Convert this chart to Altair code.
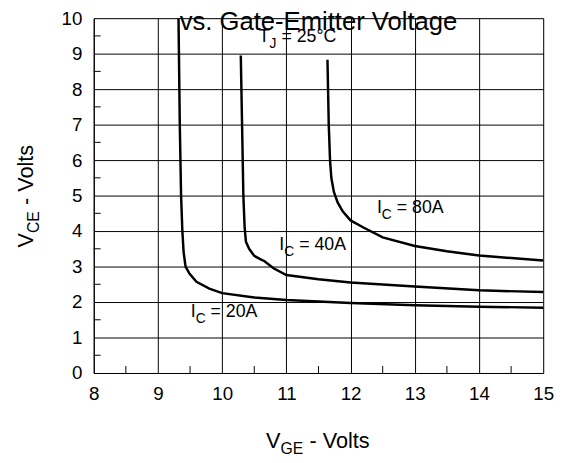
import altair as alt
import pandas as pd

# ---------------- data ----------------
ic20_vge = [9.32, 9.34, 9.36, 9.38, 9.40, 9.43, 9.49, 9.60, 9.80, 10.0, 10.5, 11.0, 12.0, 13.0, 14.0, 15.0]
ic20_vce = [10.0, 7.0, 5.0, 4.0, 3.4, 3.0, 2.8, 2.57, 2.38, 2.25, 2.13, 2.06, 1.97, 1.91, 1.87, 1.84]

ic40_vge = [10.29, 10.31, 10.33, 10.35, 10.37, 10.42, 10.50, 10.60, 10.66, 10.80, 11.0, 11.5, 12.0, 13.0, 14.0, 15.0]
ic40_vce = [8.95, 7.0, 5.0, 4.1, 3.7, 3.5, 3.3, 3.2, 3.15, 2.95, 2.76, 2.64, 2.55, 2.44, 2.33, 2.28]

ic80_vge = [11.64, 11.66, 11.68, 11.70, 11.74, 11.80, 11.88, 12.0, 12.2, 12.5, 13.0, 13.5, 14.0, 15.0]
ic80_vce = [8.83, 7.0, 6.0, 5.5, 5.1, 4.8, 4.55, 4.3, 4.1, 3.82, 3.58, 3.43, 3.31, 3.17]

x_ticks = [8, 9, 10, 11, 12, 13, 14, 15]
y_ticks = [0, 1, 2, 3, 4, 5, 6, 7, 8, 9, 10]
x_minor = [8.5, 9.5, 10.5, 11.5, 12.5, 13.5, 14.5]
y_minor = [0.5, 1.5, 2.5, 3.5, 4.5, 5.5, 6.5, 7.5, 8.5, 9.5]

# curve labels: (main, subscript, rest, x, y)
label_main = ["I", "I", "I", "T"]
label_sub = ["C", "C", "C", "J"]
label_rest = ["= 20A", "= 40A", "= 80A", "= 25°C"]
label_x = [9.51, 10.89, 12.41, 10.57]
label_y = [1.58, 3.47, 4.52, 9.33]

title_text = "vs. Gate-Emitter Voltage"
x_title = ("V", "GE", "- Volts")
y_title = ("V", "CE", "- Volts")

# ---------------- helpers ----------------
FONT = "Liberation Sans"
W = {'V': .667, 'C': .722, 'E': .667, 'G': .778, ' ': .278, '-': .333, 'o': .556,
     'l': .222, 't': .278, 's': .5, 'I': .278, '=': .584, '2': .556, '0': .556,
     '4': .556, '8': .556, 'A': .667, 'T': .611, 'J': .5, '5': .556, '°': .4}


def tw(s, size):
    return sum(W.get(c, .556) for c in s) * size


PW, PH = 456, 360
xs = alt.Scale(domain=[8, 15], nice=False, zero=False)
ys = alt.Scale(domain=[0, 10], nice=False, zero=False)

AX = alt.Axis(values=x_ticks, format="d", grid=True, gridColor="black", gridWidth=1,
              gridOpacity=1, domainColor="black", ticks=False, labelOverlap=False,
              labelFont=FONT, labelFontSize=19, labelColor="black",
              labelPadding=12, title=None, labelFlush=False)
AY = alt.Axis(values=y_ticks, format="d", grid=True, gridColor="black", gridWidth=1,
              gridOpacity=1, domainColor="black", ticks=False, labelOverlap=False,
              labelFont=FONT, labelFontSize=19, labelColor="black",
              labelPadding=12, title=None, labelFlush=False)


def X(f):
    return alt.X(f, scale=xs, axis=AX)


def Y(f):
    return alt.Y(f, scale=ys, axis=AY)


rows = []
for name, xv, yv in [("20", ic20_vge, ic20_vce), ("40", ic40_vge, ic40_vce), ("80", ic80_vge, ic80_vce)]:
    for i, (a, b) in enumerate(zip(xv, yv)):
        rows.append({"series": name, "i": i, "vge": a, "vce": b})
curves_df = pd.DataFrame(rows)

curves = alt.Chart(curves_df).mark_line(color="black", strokeWidth=2.5, clip=True).encode(
    x=X("vge:Q"), y=Y("vce:Q"), detail="series:N", order="i:Q")

xminor = alt.Chart(pd.DataFrame({"v": x_minor})).mark_rule(color="black", strokeWidth=1).encode(
    x=X("v:Q"), y=alt.value(PH), y2=alt.value(PH - 7))
yminor = alt.Chart(pd.DataFrame({"v": y_minor})).mark_rule(color="black", strokeWidth=1).encode(
    y=Y("v:Q"), x=alt.value(0), x2=alt.value(7))

layers = [curves, xminor, yminor]

SP = W[' ']
# curve labels with subscripts
MAIN, SUB, SUBDY = 18, 14, 6
for m, s, r, lx, ly in zip(label_main, label_sub, label_rest, label_x, label_y):
    d = pd.DataFrame({"x": [lx], "y": [ly]})
    enc = dict(x=X("x:Q"), y=Y("y:Q"))
    layers.append(alt.Chart(d).mark_text(text=m, font=FONT, fontSize=MAIN, align="left",
                                         baseline="alphabetic", color="black").encode(**enc))
    layers.append(alt.Chart(d).mark_text(text=s, font=FONT, fontSize=SUB, align="left",
                                         baseline="alphabetic", color="black",
                                         dx=tw(m, MAIN), dy=SUBDY).encode(**enc))
    layers.append(alt.Chart(d).mark_text(text=r, font=FONT, fontSize=MAIN, align="left",
                                         baseline="alphabetic", color="black",
                                         dx=tw(m, MAIN) + tw(s, SUB) + SP * MAIN).encode(**enc))

# axis titles with subscripts
AT, ATS, ATDY = 22, 16, 6
w0, w1, w2 = tw(x_title[0], AT), tw(x_title[1], ATS), SP * AT + tw(x_title[2], AT)
x0 = PW / 2 - (w0 + w1 + w2) / 2
xy = 436
for txt, px, sz, ddy in zip(x_title, [x0, x0 + w0, x0 + w0 + w1 + SP * AT], [AT, ATS, AT], [0, ATDY, 0]):
    layers.append(alt.Chart(pd.DataFrame({"k": [0]})).mark_text(
        text=txt, font=FONT, fontSize=sz, align="left", baseline="alphabetic",
        color="black", dy=ddy).encode(x=alt.value(px), y=alt.value(xy)))

w0, w1, w2 = tw(y_title[0], AT), tw(y_title[1], ATS), SP * AT + tw(y_title[2], AT)
y0 = PH / 2 + (w0 + w1 + w2) / 2
yx = -62
for txt, off, sz, ddy in zip(y_title, [0, w0, w0 + w1 + SP * AT], [AT, ATS, AT], [0, ATDY, 0]):
    layers.append(alt.Chart(pd.DataFrame({"k": [0]})).mark_text(
        text=txt, font=FONT, fontSize=sz, align="left", baseline="alphabetic",
        color="black", angle=270, dx=off, dy=ddy).encode(x=alt.value(yx), y=alt.value(y0)))

# chart title (overlapping the top of the plot, as in the reference)
layers.append(alt.Chart(pd.DataFrame({"k": [0]})).mark_text(
    text=title_text, font=FONT, fontSize=26, align="center", baseline="alphabetic",
    color="black").encode(x=alt.value(PW / 2), y=alt.value(12)))

chart = alt.layer(*layers).properties(
    width=PW, height=PH,
    autosize=alt.AutoSizeParams(type="none"),
    padding={"left": 87, "top": 7, "right": 14, "bottom": 88},
).configure_view(stroke="black", strokeWidth=1).configure(background="white")

chart.save("out.html", embed_options={"renderer": "svg", "actions": False})
